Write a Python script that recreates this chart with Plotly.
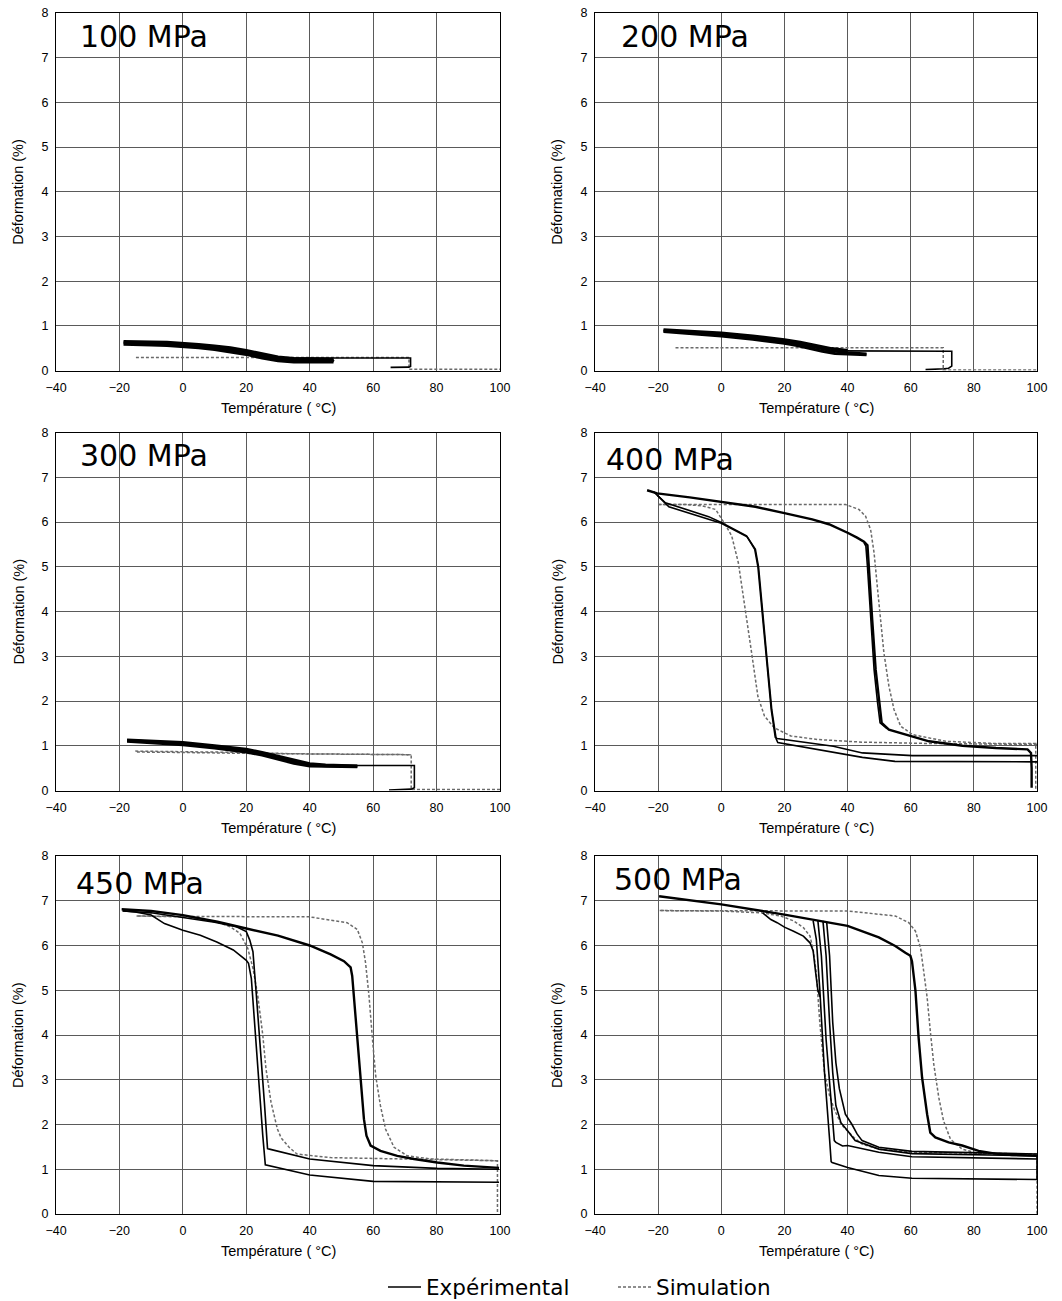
import plotly.graph_objects as go

# ---------------- data ----------------
panels = ["100 MPa", "200 MPa", "300 MPa", "400 MPa", "450 MPa", "500 MPa"]
x_ticks = [-40, -20, 0, 20, 40, 60, 80, 100]
y_ticks = [0, 1, 2, 3, 4, 5, 6, 7, 8]

# 100 MPa
T100_band = [-18.7, -15, -10, -5, 0, 5, 10, 15, 20, 25, 30, 35, 40, 47.5, None,
             -18.7, -10, 0, 10, 20, 25, 30, 35, 40, 47.5, None,
             47.5, 40, 35, 30, 25, 20, 15, 10, 5, 0, -5, -10, -15, -18.7]
E100_band = [0.65, 0.65, 0.64, 0.63, 0.61, 0.58, 0.55, 0.51, 0.45, 0.37, 0.3, 0.27, 0.26, 0.25, None,
             0.62, 0.605, 0.575, 0.515, 0.405, 0.325, 0.26, 0.23, 0.22, 0.22, None,
             0.19, 0.18, 0.19, 0.22, 0.28, 0.36, 0.42, 0.47, 0.51, 0.54, 0.56, 0.57, 0.58, 0.59]
T100_exp = [47, 47.5, 47, None, 29, 50, 71.8, 71.8, 71.2, 65.5]
E100_exp = [0.19, 0.22, 0.26, None, 0.28, 0.28, 0.28, 0.09, 0.075, 0.07]
T100_heat = []
E100_heat = []
T100_sim = [-14.8, 71.3, 71.3, 72, 100]
E100_sim = [0.29, 0.29, 0.03, 0.03, 0.03]

# 200 MPa
T200_band = [-18.3, -10, 0, 10, 20, 25, 30, 35, 40, None,
             -18.3, -10, 0, 10, 20, 25, 30, 35, 40, 46, None,
             46, 40, 36, 32, 28, 24, 20, 10, 0, -10, -18.3]
E200_band = [0.91, 0.88, 0.84, 0.77, 0.69, 0.63, 0.56, 0.49, 0.45, None,
             0.89, 0.855, 0.805, 0.735, 0.65, 0.595, 0.52, 0.44, 0.4, 0.37, None,
             0.35, 0.36, 0.38, 0.43, 0.5, 0.56, 0.61, 0.7, 0.77, 0.83, 0.87]
T200_exp = [38, 73, 73, 72, 70.6, 64.7]
E200_exp = [0.44, 0.43, 0.1, 0.05, 0.04, 0.02]
T200_heat = []
E200_heat = []
T200_sim = [-14.5, 70.3, 70.3, 100]
E200_sim = [0.51, 0.51, 0.01, 0.01]

# 300 MPa
T300_band = [-17.6, -10, 0, 10, 20, 25, 30, 35, 40, 45, 55, None,
             -17.6, -10, 0, 10, 20, 25, 30, 35, 40, 45, 55, None,
             55, 45, 40, 35, 30, 25, 20, 10, 0, -10, -17.6]
E300_band = [1.13, 1.11, 1.07, 1.0, 0.92, 0.85, 0.77, 0.68, 0.6, 0.57, 0.55, None,
             1.115, 1.09, 1.045, 0.975, 0.89, 0.82, 0.735, 0.645, 0.575, 0.555, 0.54, None,
             0.53, 0.54, 0.55, 0.61, 0.7, 0.79, 0.86, 0.95, 1.02, 1.07, 1.1]
T300_exp = [40, 73, 73, 72, 65]
E300_exp = [0.56, 0.56, 0.06, 0.03, 0.01]
T300_heat = []
E300_heat = []
T300_sim = [100, 72, 72, 40, 20, 0, -15, None, -15, 0, 20, 35, 72]
E300_sim = [0.02, 0.02, 0.8, 0.81, 0.83, 0.85, 0.86, None, 0.88, 0.87, 0.85, 0.82, 0.8]

# 400 MPa
T400_heat = [-23.5, -20.3, -10, 0, 10.8, 20, 28.8, 34.1, 37.5, 40, 43, 45.2, 46.3, 46.8, 47.8, 48.9, 50, 50.8,
             53.1, 58.4, 65.8, 76.4, 87, 97, 98.1, 98.3, 98.3]
E400_heat = [6.71, 6.64, 6.55, 6.45, 6.34, 6.2, 6.06, 5.95, 5.85, 5.76, 5.65, 5.56, 5.48, 5.0, 3.82, 2.7, 1.96, 1.51,
             1.36, 1.25, 1.1, 1.0, 0.95, 0.92, 0.84, 0.5, 0.06]
T400_exp = [45.2, 45.8, 46.3, 47.3, 48.4, 49.5, 50.3, 52.5, None,
            100, 60.5, 44.7, 35.5, 17.7, 17.1, 15.8, 14.2, 12.7, 11.6, 10.6, 8, 0, -4, -17.7, -20.3, -21.5, None,
            100, 55, 44.7, 35.5, 17.9, 17.4, 16, 14.4, 12.9, 11.8, 10.8, 8.2, 0, -16.6, -20.3]
E400_exp = [5.54, 5.46, 5.0, 3.82, 2.7, 1.96, 1.51, 1.38, None,
            0.78, 0.78, 0.84, 0.99, 1.16, 1.19, 1.82, 3.0, 4.27, 5.0, 5.39, 5.69, 5.99, 6.12, 6.43, 6.6, 6.68, None,
            0.64, 0.65, 0.74, 0.85, 1.07, 1.15, 1.8, 3.0, 4.27, 5.0, 5.39, 5.67, 5.97, 6.34, 6.6]
T400_band = []
E400_band = []
T400_sim = [-19.8, 39.4, 43.6, 45.7, 47.3, 48.4, 49.4, 50.5, 51.5, 53.1, 54.7, 56.8, 60.5, 71.1, 87, 99.6, 99.6, None,
            100, 65.8, 44.7, 35.6, 30.4, 22, 16.8, 13.7, 11.6, 9.6, 7.5, 5.4, 3.3, 1.2, -1.8, -6, -11.4, -19.8]
E400_sim = [6.39, 6.39, 6.28, 6.13, 5.83, 5.31, 4.57, 3.82, 3.08, 2.33, 1.81, 1.44, 1.25, 1.1, 1.05, 1.05, 0, None,
            1.03, 1.05, 1.08, 1.12, 1.14, 1.22, 1.4, 1.66, 2.1, 3.08, 4.05, 5.09, 5.69, 5.95, 6.28, 6.36, 6.39, 6.39]

# 450 MPa
T450_heat = [-19.3, -10, 0, 10.9, 20, 30, 40, 46.6, 50.8, 52.9, 53.4, 53.9, 55, 56, 57.1, 57.9, 59.2,
             62.3, 67.6, 72.9, 80.2, 88.6, 99.7]
E450_heat = [6.81, 6.77, 6.68, 6.53, 6.38, 6.22, 6.0, 5.8, 5.65, 5.51, 5.32, 4.87, 3.98, 3.01, 2.12, 1.75, 1.53,
             1.41, 1.3, 1.23, 1.15, 1.08, 1.03]
T450_exp = [99.7, 80.2, 60, 40, 27.3, 26.7, 25.7, 24.2, 23.1, 22.1, 21.1, 20, 16.9, 10, 0, -10, -19, None,
            99.7, 60, 40, 26, 25.2, 23.6, 22.6, 21.6, 20.7, 20, 15.9, 10.7, 5.5, 0, -5.8, -6.9, -8.9, -10, -15, -19]
E450_exp = [1.0, 1.02, 1.08, 1.23, 1.45, 1.46, 2.5, 4.0, 4.96, 5.86, 6.12, 6.31, 6.42, 6.52, 6.63, 6.73, 6.77, None,
            0.71, 0.73, 0.87, 1.1, 1.75, 3.25, 4.37, 5.26, 5.6, 5.67, 5.9, 6.08, 6.23, 6.34, 6.49, 6.54, 6.62, 6.68, 6.75, 6.78]
T450_band = []
E450_band = []
T450_sim = [-14.6, 0, 40, 51.8, 55, 56.6, 57.6, 58.7, 59.7, 60.8, 62.3, 63.9, 66.6, 70.8, 78.1, 88.6, 99.2, 99.2, None,
            99.2, 60, 46.6, 36, 33.5, 31, 29.8, 27.8, 26.2, 25.2, 23.6, 22.1, 20.5, 18, 14.9, 10.7, 5.5, 0, -14.6]
E450_sim = [6.66, 6.65, 6.64, 6.51, 6.36, 6.06, 5.62, 4.87, 3.98, 3.09, 2.42, 1.9, 1.49, 1.3, 1.23, 1.21, 1.19, 0, None,
            1.19, 1.23, 1.26, 1.34, 1.49, 1.7, 1.9, 2.5, 3.25, 4.0, 4.89, 5.49, 5.93, 6.27, 6.42, 6.53, 6.6, 6.64, 6.66]

# 500 MPa
T500_heat = [-19.7, 0, 20, 40, 49.9, 55.1, 58.3, 59.9, 60.4, 61.5, 62.5, 63.6, 65.2, 66.2, 67.8, 72, 76.3,
             81.5, 86.8, 92.1, 100]
E500_heat = [7.1, 6.92, 6.69, 6.44, 6.18, 5.99, 5.84, 5.77, 5.65, 4.99, 3.94, 3.05, 2.23, 1.82, 1.71, 1.6, 1.53,
             1.41, 1.35, 1.32, 1.3]
T500_exp = [100, 60.4, 49.9, 40, 35.1, 34.8, 34.3, 32.7, 31.2, 30.1, 29.1, None,
            13.1, 15.7, 17.7, 20, 22.9, 26, 28.1, 29.1, 29.9, 30.6, 31.3, None,
            100, 60.4, 49.9, 40, 38.4, 36.3, 35.8, 35.3, 33.2, 31.7, 30.6, None,
            100, 60.4, 49.9, 42.4, 40, 37.9, 36.3, 35.3, 34.3, 33.2, 32.2, None,
            100, 60.4, 49.9, 44.6, 43, 41.4, 39.3, 37.4, 36.3, 35.3, 34.3, 33.4, None,
            100, 100]
E500_exp = [0.77, 0.8, 0.86, 1.04, 1.15, 1.17, 1.67, 3.16, 5.02, 6.14, 6.55, None,
            6.73, 6.58, 6.51, 6.41, 6.32, 6.21, 6.06, 5.88, 5.39, 5.0, 4.85, None,
            1.23, 1.28, 1.38, 1.53, 1.52, 1.6, 1.64, 2.04, 3.9, 5.77, 6.55, None,
            1.3, 1.35, 1.45, 1.64, 1.86, 2.04, 2.42, 3.16, 4.28, 5.77, 6.55, None,
            1.34, 1.4, 1.49, 1.64, 1.79, 2.0, 2.23, 2.8, 3.38, 4.28, 5.77, 6.51, None,
            1.3, 0.77]
T500_band = []
E500_band = []
T500_sim = [-19.5, 0, 40, 55.1, 59.4, 61.5, 63.1, 64.1, 65.2, 66.2, 67.3, 68.9, 70.4, 72.6, 76.3, 81.6, 100, 100, None,
            100, 60.4, 49.9, 44.6, 42, 38, 35.8, 34.3, 32.7, 31.2, 30.1, 29.1, 28.1, 26, 22.9, 18.8, 12.6, 0, -19.5]
E500_sim = [6.78, 6.78, 6.77, 6.66, 6.51, 6.32, 5.95, 5.43, 4.84, 4.09, 3.35, 2.6, 2.08, 1.67, 1.45, 1.35, 1.32, 0, None,
            1.34, 1.38, 1.45, 1.56, 1.71, 2.0, 2.34, 2.64, 3.16, 4.28, 5.39, 5.91, 6.21, 6.4, 6.55, 6.66, 6.73, 6.77, 6.78]

data = [
    (T100_band, E100_band, T100_heat, E100_heat, T100_exp, E100_exp, T100_sim, E100_sim),
    (T200_band, E200_band, T200_heat, E200_heat, T200_exp, E200_exp, T200_sim, E200_sim),
    (T300_band, E300_band, T300_heat, E300_heat, T300_exp, E300_exp, T300_sim, E300_sim),
    (T400_band, E400_band, T400_heat, E400_heat, T400_exp, E400_exp, T400_sim, E400_sim),
    (T450_band, E450_band, T450_heat, E450_heat, T450_exp, E450_exp, T450_sim, E450_sim),
    (T500_band, E500_band, T500_heat, E500_heat, T500_exp, E500_exp, T500_sim, E500_sim),
]

# ---------------- layout geometry ----------------
# page body margin is reset to 0 (post_script below), so the figure fills the window exactly
W, H = 1062, 1301


def dx_(px):
    return px / W


def dy_(px):
    return (H - px) / H


col_dom = [[dx_(56), dx_(500)], [dx_(595), dx_(1037)]]
row_dom = [[dy_(370.5), dy_(13)],
           [dy_(790.5), dy_(432.5)],
           [dy_(1214), dy_(856)]]
label_off = [(22, 24), (24, 24), (22, 23), (9, 27), (18, 27), (17, 23)]

EXP_COLOR = "black"
SIM_COLOR = "#6a6a6a"
TICK_FONT = dict(family="Liberation Sans, Arial, sans-serif", size=12.5, color="black")
TITLE_FONT = dict(family="Liberation Sans, Arial, sans-serif", size=14.5, color="black")

fig = go.Figure()
layout = dict(width=W, height=H, margin=dict(l=0, r=0, t=0, b=0, autoexpand=False),
              paper_bgcolor="white", plot_bgcolor="white", annotations=[])

for i, name in enumerate(panels):
    r, c = divmod(i, 2)
    ax = "" if i == 0 else str(i + 1)
    xa, ya = "x" + ax, "y" + ax
    Tb, Eb, Th, Eh, Te, Ee, Ts, Es = data[i]
    first = (i == 3)
    if Ts:
        fig.add_trace(go.Scatter(x=Ts, y=Es, mode="lines", xaxis=xa, yaxis=ya,
                                 line=dict(color=SIM_COLOR, width=1.5, dash="3px,2px"),
                                 name="Simulation", legendgroup="sim", showlegend=first,
                                 legendrank=2))
    if Tb:
        fig.add_trace(go.Scatter(x=Tb, y=Eb, mode="lines", xaxis=xa, yaxis=ya,
                                 line=dict(color=EXP_COLOR, width=3),
                                 name="Expérimental", legendgroup="exp", showlegend=False))
    if Th:
        fig.add_trace(go.Scatter(x=Th, y=Eh, mode="lines", xaxis=xa, yaxis=ya,
                                 line=dict(color=EXP_COLOR, width=2.4),
                                 name="Expérimental", legendgroup="exp", showlegend=False))
    if Te:
        fig.add_trace(go.Scatter(x=Te, y=Ee, mode="lines", xaxis=xa, yaxis=ya,
                                 line=dict(color=EXP_COLOR, width=1.6),
                                 name="Expérimental", legendgroup="exp", showlegend=first,
                                 legendrank=1))

    axis_common = dict(showline=True, linecolor="black", linewidth=1, mirror=True,
                       showgrid=True, gridcolor="#5a5a5a", gridwidth=1, automargin=False,
                       zeroline=False, ticks="", tickfont=TICK_FONT, fixedrange=True,
                       ticklabeloverflow="allow")
    layout["xaxis" + ax] = dict(axis_common, domain=col_dom[c], anchor=ya, range=[-40, 100],
                                tickvals=x_ticks, ticklabelstandoff=5)
    layout["yaxis" + ax] = dict(axis_common, domain=row_dom[r], anchor=xa, range=[0, 8],
                                tickvals=y_ticks, ticklabelstandoff=4)

    dx = "x" + ax + " domain"
    dy = "y" + ax + " domain"
    ox, oy = label_off[i]
    layout["annotations"].append(dict(text=name, xref=dx, yref=dy, x=0, y=1, xshift=ox, yshift=-oy,
                                      xanchor="left", yanchor="middle", showarrow=False,
                                      font=dict(family="DejaVu Sans", size=30, color="black")))
    layout["annotations"].append(dict(text="Température ( °C)", xref=dx, yref=dy, x=0.5, y=0,
                                      yshift=-37, xanchor="center", yanchor="middle", showarrow=False,
                                      font=TITLE_FONT))
    layout["annotations"].append(dict(text="Déformation (%)", xref=dx, yref=dy, x=0, y=0.5,
                                      xshift=-38, xanchor="center", yanchor="middle", textangle=-90,
                                      showarrow=False, font=TITLE_FONT))

layout["legend"] = dict(orientation="h", x=dx_(383), y=dy_(1287), xanchor="left", yanchor="middle",
                        font=dict(family="DejaVu Sans", size=21.5, color="black"),
                        itemwidth=33, entrywidth=182, entrywidthmode="pixels",
                        bgcolor="rgba(0,0,0,0)", traceorder="normal")
fig.update_layout(**layout)
fig.write_html("out.html",
               config={"displayModeBar": False, "staticPlot": True},
               post_script="document.body.style.margin='0px'; document.body.style.overflow='hidden';")
